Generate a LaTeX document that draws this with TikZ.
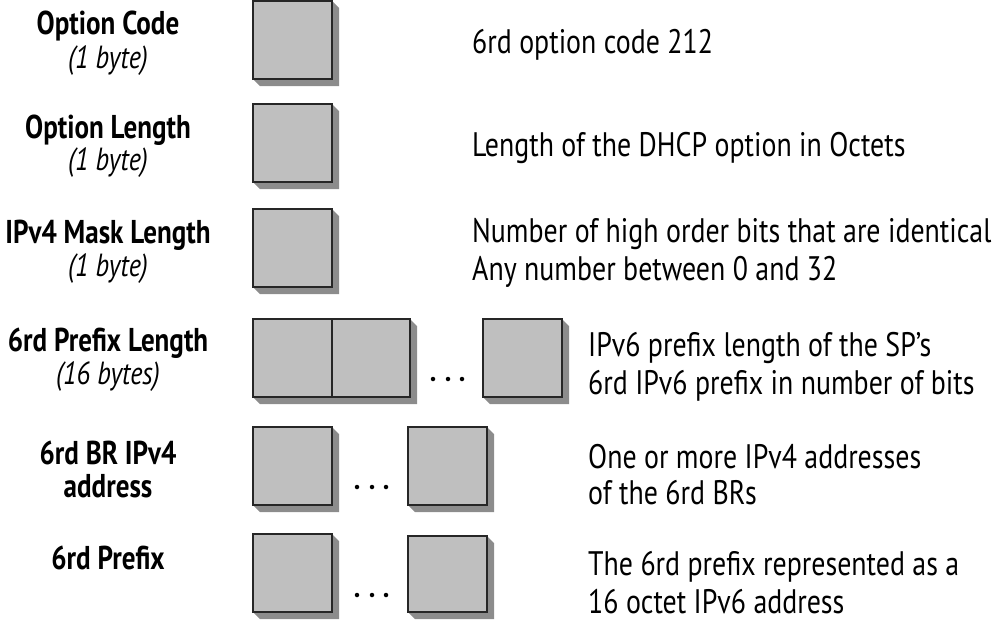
\documentclass[tikz,border=0pt]{standalone}
\usepackage{fontspec}
\setmainfont[FakeStretch=0.82]{PT Sans}
\begin{document}
\begin{tikzpicture}[x=1pt,y=-1pt,
  lbl/.style={inner sep=0pt,anchor=base,font=\fontsize{33}{36}\selectfont\bfseries},
  sub/.style={inner sep=0pt,anchor=base,font=\fontsize{32}{35}\selectfont\itshape},
  desc/.style={inner sep=0pt,anchor=base west,font=\fontsize{34}{37}\selectfont},
  cell/.style={draw=black!85,line width=2.2pt,fill=black!25,inner sep=0pt},
  shade/.style={fill=black!45,draw=none},
  dot/.style={circle,fill=black,inner sep=0pt,minimum size=4.5pt}]
\useasboundingbox (0,0) rectangle (1000,625);
% shadow helper: #1 x0, #2 y0, #3 x1, #4 y1
\def\shadowbox#1#2#3#4{\fill[shade] (#3,#2) -- (#3+7,#2+7) -- (#3+7,#4+7) -- (#1+7,#4+7) -- (#1,#4) -- cycle;}
% Row 1
\shadowbox{253}{1}{332}{79}
\node[cell,minimum width=79pt,minimum height=78pt] (b1) at (292.5,40) {};
\node[lbl] (l1) at (108,34) {Option Code};
\node[sub] (s1) at (108,68) {(1 byte)};
\node[desc] (d1) at (472,53) {6rd option code 212};
% Row 2
\shadowbox{253}{104}{332}{182}
\node[cell,minimum width=79pt,minimum height=78pt] (b2) at (292.5,143) {};
\node[lbl] (l2) at (108,138) {Option Length};
\node[sub] (s2) at (108,170) {(1 byte)};
\node[desc] (d2) at (472,156) {Length of the DHCP option in Octets};
% Row 3
\shadowbox{253}{209}{332}{287}
\node[cell,minimum width=79pt,minimum height=78pt] (b3) at (292.5,248) {};
\node[lbl] (l3) at (108,243) {IPv4 Mask Length};
\node[sub] (s3) at (108,276) {(1 byte)};
\node[desc] (d3a) at (472,242) {Number of high order bits that are identical};
\node[desc] (d3b) at (472,280) {Any number between 0 and 32};
% Row 4
\shadowbox{253}{319}{410}{397}
\node[cell,minimum width=79pt,minimum height=78pt] (b4a) at (292.5,358) {};
\node[cell,minimum width=78pt,minimum height=78pt] (b4b) at (371,358) {};
\shadowbox{483}{319}{562}{397}
\node[cell,minimum width=79pt,minimum height=78pt] (b4c) at (522.5,358) {};
\node[dot] (p4a) at (433,379) {};
\node[dot] (p4b) at (448,379) {};
\node[dot] (p4c) at (462,379) {};
\node[lbl] (l4) at (108,351) {6rd Prefix Length};
\node[sub] (s4) at (108,384) {(16 bytes)};
\node[desc] (d4a) at (588,356) {IPv6 prefix length of the SP’s};
\node[desc] (d4b) at (588,394) {6rd IPv6 prefix in number of bits};
% Row 5
\shadowbox{253}{427}{332}{505}
\node[cell,minimum width=79pt,minimum height=78pt] (b5a) at (292.5,466) {};
\shadowbox{408}{427}{487}{505}
\node[cell,minimum width=79pt,minimum height=78pt] (b5b) at (447.5,466) {};
\node[dot] (p5a) at (357,487) {};
\node[dot] (p5b) at (372,487) {};
\node[dot] (p5c) at (386,487) {};
\node[lbl] (l5) at (108,464) {6rd BR IPv4};
\node[lbl] (l5b) at (108,497) {address};
\node[desc] (d5a) at (588,468) {One or more IPv4 addresses};
\node[desc] (d5b) at (588,504) {of the 6rd BRs};
% Row 6
\shadowbox{253}{534}{332}{612}
\node[cell,minimum width=79pt,minimum height=78pt] (b6a) at (292.5,573) {};
\shadowbox{408}{536}{487}{612}
\node[cell,minimum width=79pt,minimum height=76pt] (b6b) at (447.5,574) {};
\node[dot] (p6a) at (357,595) {};
\node[dot] (p6b) at (372,595) {};
\node[dot] (p6c) at (386,595) {};
\node[lbl] (l6) at (108,569) {6rd Prefix};
\node[desc] (d6a) at (588,575) {The 6rd prefix represented as a};
\node[desc] (d6b) at (588,613) {16 octet IPv6 address};
\end{tikzpicture}
\end{document}
